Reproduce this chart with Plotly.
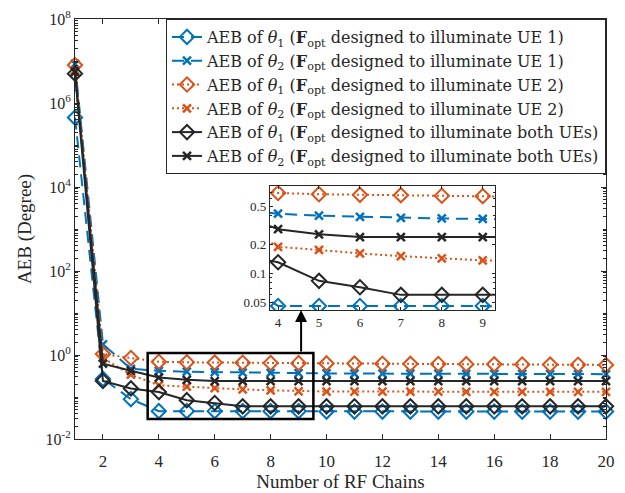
import numpy as np
import plotly.graph_objects as go

# Number of RF chains
rf_chains = list(range(1, 21))

# AEB (degree) for each beamformer design
aeb_t1_ue1 = [4.5e5, 0.27, 0.089, 0.046, 0.046, 0.046, 0.046, 0.046, 0.046, 0.045,
              0.045, 0.045, 0.045, 0.045, 0.045, 0.045, 0.045, 0.045, 0.045, 0.045]
aeb_t2_ue1 = [8.5e6, 1.8, 0.47, 0.42, 0.40, 0.39, 0.38, 0.375, 0.37, 0.365,
              0.362, 0.36, 0.36, 0.358, 0.356, 0.355, 0.354, 0.352, 0.351, 0.35]
aeb_t1_ue2 = [8.0e6, 1.05, 0.85, 0.69, 0.67, 0.66, 0.655, 0.645, 0.64, 0.63,
              0.625, 0.62, 0.615, 0.61, 0.605, 0.6, 0.595, 0.59, 0.585, 0.58]
aeb_t2_ue2 = [6.0e6, 0.85, 0.34, 0.19, 0.176, 0.162, 0.152, 0.144, 0.137, 0.135,
              0.135, 0.134, 0.134, 0.134, 0.133, 0.133, 0.133, 0.133, 0.133, 0.133]
aeb_t1_both = [5.0e6, 0.24, 0.16, 0.131, 0.084, 0.072, 0.06, 0.06, 0.06, 0.06,
               0.06, 0.06, 0.06, 0.06, 0.06, 0.06, 0.06, 0.06, 0.06, 0.06]
aeb_t2_both = [5.5e6, 0.62, 0.42, 0.29, 0.256, 0.24, 0.24, 0.24, 0.24, 0.24,
               0.24, 0.24, 0.24, 0.24, 0.24, 0.24, 0.24, 0.24, 0.24, 0.24]

legend_names = [
    "AEB of <i>θ</i><sub>1</sub> (<b>F</b><sub>opt</sub> designed to illuminate UE 1)",
    "AEB of <i>θ</i><sub>2</sub> (<b>F</b><sub>opt</sub> designed to illuminate UE 1)",
    "AEB of <i>θ</i><sub>1</sub> (<b>F</b><sub>opt</sub> designed to illuminate UE 2)",
    "AEB of <i>θ</i><sub>2</sub> (<b>F</b><sub>opt</sub> designed to illuminate UE 2)",
    "AEB of <i>θ</i><sub>1</sub> (<b>F</b><sub>opt</sub> designed to illuminate both UEs)",
    "AEB of <i>θ</i><sub>2</sub> (<b>F</b><sub>opt</sub> designed to illuminate both UEs)",
]

y_tick_vals = [1e-2, 1e0, 1e2, 1e4, 1e6, 1e8]
y_tick_text = ["10<sup>-2</sup>", "10<sup>0</sup>", "10<sup>2</sup>",
               "10<sup>4</sup>", "10<sup>6</sup>", "10<sup>8</sup>"]
inset_y_vals = [0.05, 0.1, 0.2, 0.5]
inset_y_text = ["0.05", "0.1", "0.2", "0.5"]

# log-axis minor tick positions (2..9 x 10^k, plus odd decades)
main_minor = [m * 10.0 ** k for k in range(-2, 8) for m in range(1, 10)
              if not (m == 1 and k % 2 == 0)]
inset_minor = [m * 10.0 ** k for k in (-2, -1) for m in range(1, 10)]

BLUE = "#0072BD"
ORANGE = "#D95319"
DARK = "#262626"
FONT = "Liberation Serif"
LEGEND_FONT = "DejaVu Serif"

styles = [
    (aeb_t1_ue1, BLUE, "12px,7px", "diamond-open"),
    (aeb_t2_ue1, BLUE, "12px,7px", "x-thin-open"),
    (aeb_t1_ue2, ORANGE, "2px,3px", "diamond-open"),
    (aeb_t2_ue2, ORANGE, "2px,3px", "x-thin-open"),
    (aeb_t1_both, DARK, "solid", "diamond-open"),
    (aeb_t2_both, DARK, "solid", "x-thin-open"),
]

fig = go.Figure()

for (vals, color, dash, symbol), name in zip(styles, legend_names):
    is_x = symbol.startswith("x")
    marker = dict(symbol=symbol, size=8 if is_x else 11, color=color,
                  line=dict(color=color, width=2.5 if is_x else 2))
    fig.add_trace(go.Scatter(
        x=rf_chains, y=vals, name=name, mode="lines+markers",
        line=dict(color=color, width=2, dash=dash), marker=marker,
        cliponaxis=False, xaxis="x", yaxis="y"))
    # zoomed view of the same curve
    fig.add_trace(go.Scatter(
        x=rf_chains, y=vals, name=name, mode="lines+markers", showlegend=False,
        line=dict(color=color, width=2, dash=dash), marker=marker,
        xaxis="x2", yaxis="y2"))

axis_common = dict(showline=True, linecolor=DARK, linewidth=1, mirror="allticks",
                   ticks="inside", tickcolor=DARK, showgrid=False, zeroline=False)

fig.update_layout(
    width=625, height=493,
    margin=dict(l=75, r=19, t=19, b=54),
    paper_bgcolor="white", plot_bgcolor="white",
    font=dict(family=FONT, color=DARK, size=16),
    xaxis=dict(**axis_common, range=[1, 20], tickvals=list(range(2, 21, 2)),
               ticklen=5, tickfont=dict(size=17), ticklabelstandoff=7,
               automargin=False,
               title=dict(text="Number of RF Chains", font=dict(size=19), standoff=0)),
    yaxis=dict(**axis_common, type="log", range=[-2, 8],
               tickvals=y_tick_vals, ticktext=y_tick_text, ticklen=5,
               tickfont=dict(size=16), automargin=False,
               minor=dict(tickmode="array", tickvals=main_minor, ticks="inside",
                          ticklen=3, tickcolor=DARK, showgrid=False),
               title=dict(text="AEB (Degree)", font=dict(size=19), standoff=8)),
    xaxis2=dict(**axis_common, domain=[0.367, 0.791], anchor="y2",
                range=[3.8, 9.3], tickvals=[4, 5, 6, 7, 8, 9], ticklen=3,
                tickfont=dict(size=13)),
    yaxis2=dict(**axis_common, domain=[0.307, 0.602], anchor="x2", type="log",
                range=[-1.38, -0.09], tickvals=inset_y_vals, ticktext=inset_y_text,
                ticklen=3, tickfont=dict(size=13),
                minor=dict(tickmode="array", tickvals=inset_minor, ticks="inside",
                           ticklen=2, tickcolor=DARK, showgrid=False)),
    legend=dict(x=1, xanchor="right", y=1, yanchor="top",
                bgcolor="white", bordercolor=DARK, borderwidth=1,
                font=dict(family=LEGEND_FONT, size=16, color=DARK),
                tracegroupgap=0, itemwidth=30),
    showlegend=True,
)

# Zoom region box on the main axes
box_x = [3.6, 9.53]
box_y = [0.03, 1.12]
fig.add_shape(type="rect", xref="x", yref="y",
              x0=box_x[0], x1=box_x[1], y0=box_y[0], y1=box_y[1],
              line=dict(color="black", width=2.5), layer="above")

# Arrow from the zoom box up to the inset (annotation positions are log10 on log axes)
fig.add_annotation(xref="x", yref="y", axref="x", ayref="y",
                   x=9.09, y=1.07, ax=9.09, ay=np.log10(box_y[1]),
                   showarrow=True, arrowhead=2, arrowsize=1.2, arrowwidth=2,
                   arrowcolor="black", text="")

fig.write_html("out.html")
